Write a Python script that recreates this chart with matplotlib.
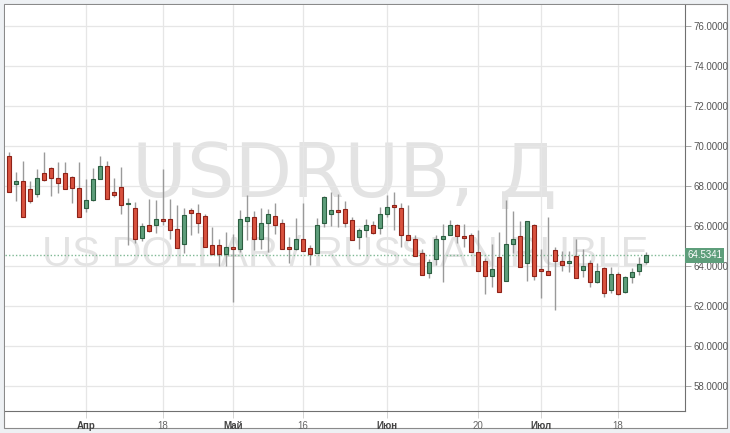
import pandas as pd
import numpy as np
import matplotlib
matplotlib.use("Agg")
import matplotlib.pyplot as plt
from matplotlib.patches import Rectangle

# USDRUB daily candles, 17 Mar 2016 - 22 Jul 2016 (weekdays)
opens = [69.52, 68.12, 68.25, 67.83, 67.58, 68.67, 68.92, 68.42, 68.67, 68.45,
         67.92, 66.90, 67.30, 68.37, 69.00, 67.68, 67.95, 67.08, 66.92, 65.42,
         66.07, 66.07, 66.37, 66.35, 65.85, 65.08, 66.80, 66.67, 66.50, 65.03,
         65.07, 64.62, 64.93, 64.83, 66.27, 66.45, 65.37, 66.13, 66.48, 66.15,
         64.97, 64.87, 65.33, 64.90, 64.67, 66.13, 66.60, 66.80, 66.87, 66.30,
         65.47, 65.80, 66.03, 65.88, 66.62, 67.03, 66.90, 65.57, 65.33, 64.63,
         63.63, 64.35, 65.35, 65.57, 66.05, 65.52, 65.57, 64.72, 64.27, 63.52,
         64.43, 63.27, 65.10, 65.48, 64.13, 66.03, 63.83, 63.77, 64.82, 64.27,
         64.13, 64.48, 63.80, 64.17, 63.18, 63.88, 62.80, 63.58, 62.72, 63.47,
         63.77, 64.22]
highs = [69.72, 68.68, 69.25, 68.27, 68.85, 69.72, 68.97, 69.18, 69.18, 68.50,
         69.22, 68.35, 68.88, 69.50, 69.25, 68.38, 68.93, 67.38, 67.22, 66.13,
         67.37, 67.30, 68.83, 67.33, 67.05, 66.88, 66.92, 67.10, 66.60, 65.93,
         65.37, 65.68, 65.60, 66.80, 67.55, 66.75, 66.88, 66.83, 67.13, 66.37,
         65.47, 66.40, 67.17, 65.03, 66.42, 67.50, 67.68, 67.60, 67.25, 66.43,
         65.92, 66.35, 66.25, 66.93, 67.53, 67.68, 67.13, 67.03, 65.55, 64.85,
         64.33, 65.55, 66.08, 66.30, 66.10, 66.08, 65.63, 65.80, 64.38, 65.10,
         65.68, 67.28, 66.75, 66.23, 66.25, 66.10, 64.87, 66.43, 64.93, 64.75,
         64.75, 65.33, 64.87, 64.28, 64.17, 63.97, 63.97, 63.72, 63.50, 63.92,
         64.43, 64.72]
lows = [67.70, 67.25, 66.43, 67.17, 67.43, 68.27, 67.52, 67.63, 67.85, 67.13,
        66.43, 66.72, 67.27, 68.37, 67.35, 67.47, 66.60, 65.05, 65.17, 65.27,
        65.70, 65.67, 66.05, 65.35, 64.92, 64.67, 65.55, 65.67, 64.95, 64.55,
        64.00, 64.00, 62.18, 64.72, 65.30, 64.80, 64.85, 64.72, 65.60, 64.83,
        64.17, 64.80, 64.75, 64.05, 64.65, 65.97, 66.00, 65.97, 65.93, 65.30,
        64.83, 65.47, 65.60, 65.58, 66.47, 65.80, 64.97, 65.30, 64.50, 63.53,
        63.38, 64.05, 63.22, 65.55, 65.13, 64.93, 64.70, 63.75, 62.60, 62.97,
        62.68, 63.27, 64.63, 63.97, 63.27, 63.30, 62.38, 63.55, 61.80, 63.77,
        63.72, 63.40, 63.43, 62.97, 63.13, 62.47, 62.63, 62.55, 62.63, 63.13,
        63.55, 64.10]
closes = [67.72, 68.25, 66.43, 67.27, 68.38, 68.32, 68.40, 68.15, 67.87, 67.92,
          66.43, 67.30, 68.37, 69.00, 67.35, 67.53, 67.07, 67.15, 65.37, 65.98,
          65.73, 66.35, 66.27, 65.82, 64.92, 66.57, 66.63, 66.17, 64.97, 64.58,
          64.58, 64.93, 64.83, 66.33, 66.43, 65.33, 66.15, 66.58, 66.07, 64.83,
          64.83, 65.33, 64.75, 64.58, 66.03, 67.45, 66.78, 66.68, 66.17, 65.30,
          65.80, 66.03, 65.63, 66.62, 66.95, 66.97, 65.55, 65.30, 64.52, 63.53,
          64.22, 65.35, 65.48, 66.05, 65.50, 65.38, 64.72, 63.75, 63.52, 63.83,
          62.68, 65.10, 65.35, 63.97, 66.25, 63.52, 63.75, 63.55, 64.27, 64.05,
          64.27, 63.40, 64.02, 63.18, 63.77, 62.63, 63.60, 62.58, 63.43, 63.72,
          64.08, 64.5341]

dates = pd.bdate_range("2016-03-17", periods=len(opens))
tick_dates = ["2016-04-01", "2016-04-18", "2016-05-02", "2016-05-16",
              "2016-06-01", "2016-06-20", "2016-07-01", "2016-07-18"]
tick_labels = ["Апр", "18", "Май", "16", "Июн", "20", "Июл", "18"]
y_ticks = [58, 60, 62, 64, 66, 68, 70, 72, 74, 76]
last_price = closes[-1]

o = np.array(opens)
h = np.array(highs)
l = np.array(lows)
c = np.array(closes)
x = np.arange(len(o))
up = c >= o

red_fill, red_edge = "#d9523f", "#8e2218"
green_fill, green_edge = "#5e9e7b", "#2b5e40"

fig = plt.figure(figsize=(7.3, 4.33), dpi=100)
fig.patch.set_facecolor("#eef1f4")
fig.patches.append(Rectangle((4 / 730, 5 / 433), 723 / 730, 424 / 433, transform=fig.transFigure,
                             facecolor="white", edgecolor="#8a8a8a", lw=0.8, zorder=-1))
ax = fig.add_axes([5 / 730, 22 / 433, 680 / 730, 406 / 433])
ax.set_facecolor("white")

ax.set_xlim(-0.57, 96.57)
ax.set_ylim(56.75, 77.05)

# watermark
ax.text(0.5, 0.578, "USDRUB, Д", transform=ax.transAxes, ha="center", va="center",
        fontsize=54, color="#e3e3e3", family=["DejaVu Sans"], zorder=0)
ax.text(0.5, 0.385, "US DOLLAR / RUSSIAN RUBLE", transform=ax.transAxes, ha="center", va="center",
        fontsize=30, color="#e3e3e3", family=["Liberation Sans", "DejaVu Sans"], zorder=0)

pos = [dates.get_loc(pd.Timestamp(d)) for d in tick_dates]
for p in pos:
    ax.axvline(p, color="#e6e6e6", lw=0.9, zorder=0.5)
for t in y_ticks:
    ax.axhline(t, color="#e6e6e6", lw=0.9, zorder=0.5)

ax.vlines(x, l, h, color="#9a9a9a", lw=1.0, zorder=2)
bottoms = np.minimum(o, c)
heights = np.maximum(np.abs(c - o), 0.06)
ax.bar(x[up], heights[up], bottom=bottoms[up], width=0.6, color=green_fill,
       edgecolor=green_edge, lw=0.8, zorder=3)
ax.bar(x[~up], heights[~up], bottom=bottoms[~up], width=0.6, color=red_fill,
       edgecolor=red_edge, lw=0.8, zorder=3)

ax.axhline(last_price, color="#7fb894", lw=1.0, ls=(0, (1, 1.5)), zorder=1)

for s in ["top", "left"]:
    ax.spines[s].set_visible(False)
ax.spines["right"].set_color("#707070")
ax.spines["bottom"].set_color("#707070")

ax.yaxis.tick_right()
ax.set_yticks(y_ticks)
ax.set_yticklabels(["%.4f" % t for t in y_ticks])
ax.tick_params(axis="y", length=4, width=0.6, color="#999999", labelsize=7,
               labelcolor="#555555", pad=2)
ax.set_xticks(pos)
ax.set_xticklabels(tick_labels)
ax.tick_params(axis="x", length=5, width=0.6, color="#cccccc", labelsize=7,
               labelcolor="#666666", pad=2)
for lab, txt in zip(ax.get_xticklabels(), tick_labels):
    lab.set_family(["Liberation Sans Narrow", "Liberation Sans", "DejaVu Sans"])
    if not txt.isdigit():
        lab.set_fontweight("bold")
        lab.set_color("#444444")
for lab in ax.get_yticklabels():
    lab.set_family(["Liberation Sans", "DejaVu Sans"])

ax.text(1.003, last_price, "%.4f" % last_price, transform=ax.get_yaxis_transform(),
        ha="left", va="center", fontsize=7, color="white",
        family=["Liberation Sans", "DejaVu Sans"],
        bbox=dict(boxstyle="square,pad=0.25", facecolor="#5e9e7b", edgecolor="none"),
        zorder=5, clip_on=False)

fig.savefig("out.png", dpi=100, facecolor=fig.get_facecolor())
